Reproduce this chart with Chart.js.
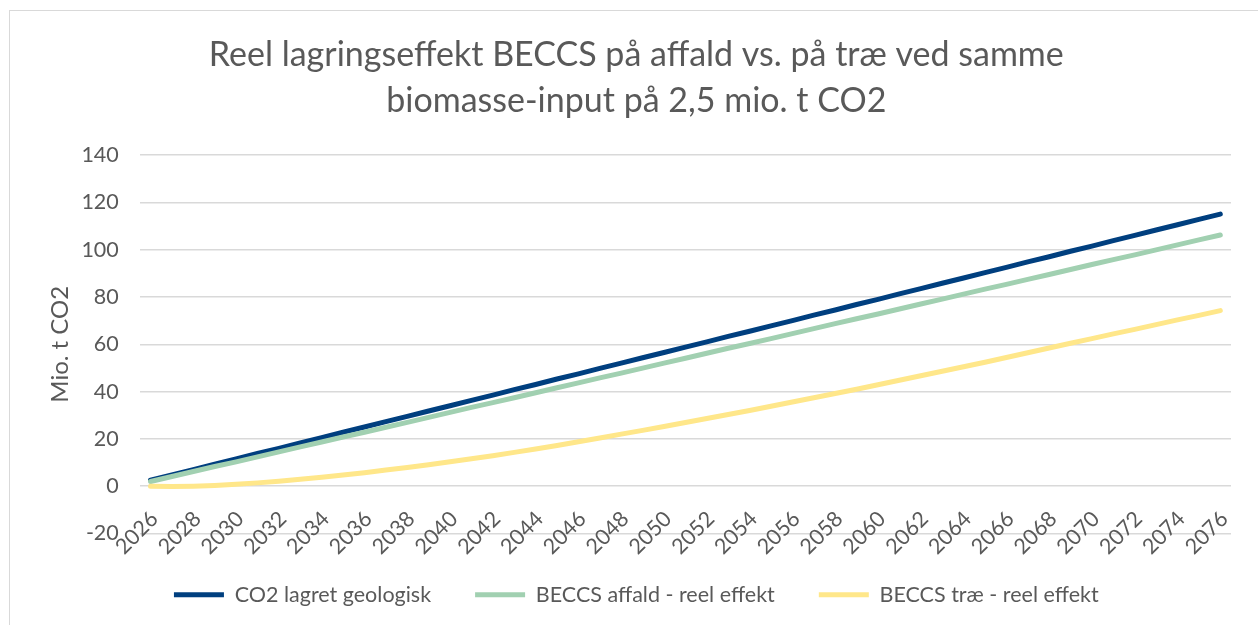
<!DOCTYPE html>
<html>
<head>
<meta charset="utf-8">
<script src="https://cdn.jsdelivr.net/npm/chart.js@4.4.1/dist/chart.umd.min.js"></script>
<style>
  html, body { margin: 0; padding: 0; background: #ffffff; }
  #wrap { position: relative; width: 1258px; height: 625px; overflow: hidden; }
  #frame { position: absolute; left: 9px; top: 10px; width: 1300px; height: 700px;
           border-left: 1px solid #d9d9d9; border-top: 1px solid #d9d9d9; }
  canvas { position: absolute; left: 0; top: 0; }
</style>
</head>
<body>
<div id="wrap">
  <div id="frame"></div>
  <canvas id="c" width="1258" height="625"></canvas>
</div>
<script>
const titleLines = ['Reel lagringseffekt BECCS på affald vs. på træ ved samme', 'biomasse-input på 2,5 mio. t CO2'];
const yAxisTitle = 'Mio. t CO2';
const seriesNames = ['CO2 lagret geologisk', 'BECCS affald - reel effekt', 'BECCS træ - reel effekt'];

const years = [2026, 2027, 2028, 2029, 2030, 2031, 2032, 2033, 2034, 2035,
  2036, 2037, 2038, 2039, 2040, 2041, 2042, 2043, 2044, 2045,
  2046, 2047, 2048, 2049, 2050, 2051, 2052, 2053, 2054, 2055,
  2056, 2057, 2058, 2059, 2060, 2061, 2062, 2063, 2064, 2065,
  2066, 2067, 2068, 2069, 2070, 2071, 2072, 2073, 2074, 2075, 2076];

const co2Stored = [2.5, 4.8, 7.0, 9.3, 11.5, 13.8, 16.0, 18.3, 20.5, 22.8,
  25.0, 27.3, 29.5, 31.8, 34.0, 36.3, 38.5, 40.8, 43.0, 45.3,
  47.5, 49.8, 52.0, 54.3, 56.5, 58.8, 61.0, 63.3, 65.5, 67.8,
  70.0, 72.3, 74.5, 76.8, 79.0, 81.3, 83.5, 85.8, 88.0, 90.3,
  92.5, 94.8, 97.0, 99.3, 101.5, 103.8, 106.0, 108.3, 110.5, 112.8, 115.0];

const beccsWaste = [2.0, 4.1, 6.2, 8.3, 10.3, 12.4, 14.5, 16.6, 18.7, 20.8,
  22.8, 24.9, 27.0, 29.1, 31.2, 33.3, 35.3, 37.4, 39.5, 41.6,
  43.7, 45.8, 47.8, 49.9, 52.0, 54.1, 56.2, 58.3, 60.3, 62.4,
  64.5, 66.6, 68.7, 70.8, 72.8, 74.9, 77.0, 79.1, 81.2, 83.3,
  85.3, 87.4, 89.5, 91.6, 93.7, 95.8, 97.8, 99.9, 102.0, 104.1, 106.2];

const beccsWood = [0.0, -0.1, 0.0, 0.3, 0.8, 1.4, 2.1, 2.9, 3.8, 4.7,
  5.7, 6.8, 7.9, 9.1, 10.3, 11.6, 12.9, 14.3, 15.7, 17.2,
  18.8, 20.4, 22.0, 23.6, 25.2, 26.9, 28.6, 30.3, 32.0, 33.8,
  35.6, 37.4, 39.2, 41.0, 42.9, 44.8, 46.7, 48.6, 50.5, 52.4,
  54.4, 56.4, 58.4, 60.4, 62.4, 64.4, 66.3, 68.3, 70.3, 72.2, 74.2];

const yMin = -20, yMax = 140, yStep = 20;

const FONT = 'Lato, "Open Sans", "Noto Sans", sans-serif';
const TEXT = '#595959';

const ds = (label, data, color, order) => ({
  label, data,
  borderColor: color, backgroundColor: color,
  borderWidth: 5, pointRadius: 0, pointHoverRadius: 0,
  borderCapStyle: 'round', borderJoinStyle: 'round',
  tension: 0, fill: false, order
});

new Chart(document.getElementById('c'), {
  type: 'line',
  data: {
    labels: years.map(String),
    datasets: [
      ds(seriesNames[0], co2Stored, '#003F7F', 3),
      ds(seriesNames[1], beccsWaste, '#A1D0B1', 2),
      ds(seriesNames[2], beccsWood, '#FFE78A', 1)
    ]
  },
  options: {
    responsive: false,
    animation: false,
    devicePixelRatio: 1,
    layout: { padding: { left: 41.6, right: 27, top: 0, bottom: 9.5 } },
    plugins: {
      tooltip: { enabled: false },
      title: {
        display: true,
        text: titleLines,
        color: TEXT,
        font: { family: FONT, size: 34, weight: 'normal', lineHeight: 1.353 },
        padding: { top: 32, bottom: 31 }
      },
      legend: {
        position: 'bottom',
        title: { display: true, text: '', font: { size: 1 }, padding: { top: 5.3, bottom: 0 } },
        labels: {
          usePointStyle: true,
          pointStyle: 'line',
          pointStyleWidth: 50,
          color: TEXT,
          font: { family: FONT, size: 21.5 },
          padding: 44,
          sort: (a, b) => a.datasetIndex - b.datasetIndex
        }
      }
    },
    scales: {
      x: {
        type: 'category',
        position: { y: 0 },
        offset: true,
        grid: { display: false, drawTicks: false },
        border: { display: false },
        afterFit: (scale) => { scale.paddingLeft = 0; scale.paddingRight = 0; },
        ticks: {
          autoSkip: false,
          minRotation: 45,
          maxRotation: 45,
          padding: 20,
          labelOffset: 4,
          color: TEXT,
          font: { family: FONT, size: 21.5 },
          callback: function (value, index) { return index % 2 === 0 ? this.getLabelForValue(value) : ''; }
        }
      },
      y: {
        min: yMin, max: yMax,
        grid: { color: '#d9d9d9', lineWidth: 1.5, drawTicks: false },
        border: { display: false },
        afterFit: (scale) => { scale.width -= scale.options.ticks.padding; },
        ticks: {
          stepSize: yStep,
          padding: 21,
          color: TEXT,
          font: { family: FONT, size: 21.5 }
        },
        title: {
          display: true,
          text: yAxisTitle,
          color: TEXT,
          font: { family: FONT, size: 24 },
          padding: { top: 4, bottom: 7 }
        }
      }
    }
  }
});
</script>
</body>
</html>
